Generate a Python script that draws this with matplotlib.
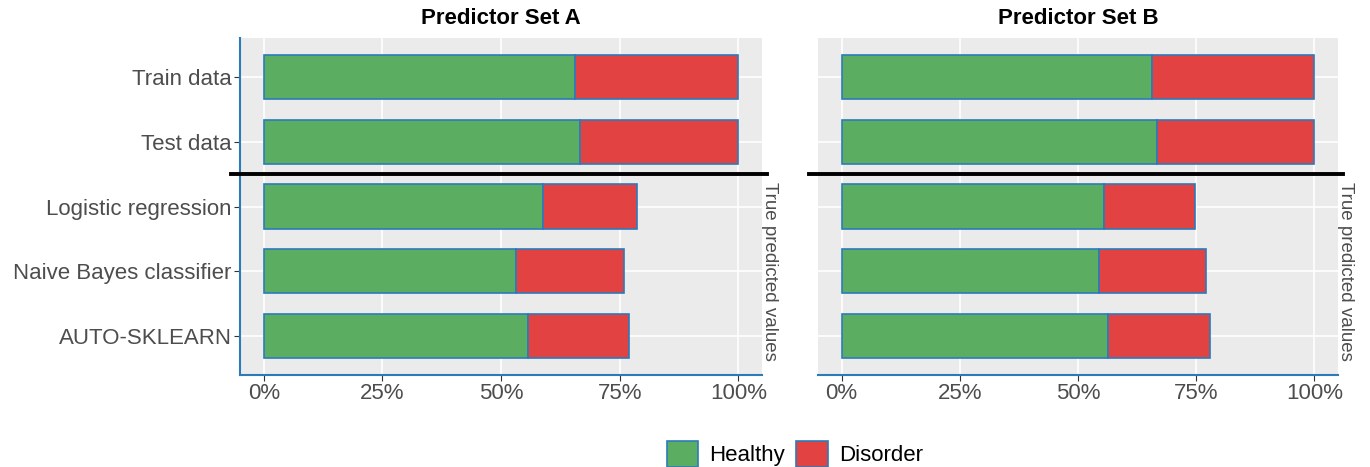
import numpy as np
import matplotlib
matplotlib.use("Agg")
import matplotlib.pyplot as plt
from matplotlib.patches import Patch
from matplotlib.ticker import PercentFormatter

plt.rcParams["font.family"] = ["Liberation Sans", "DejaVu Sans"]

# data (share of cases, 0-1)
categories = ["Train data", "Test data", "Logistic regression",
              "Naive Bayes classifier", "AUTO-SKLEARN"]
panels = ["Predictor Set A", "Predictor Set B"]
healthy_a = [0.656, 0.667, 0.589, 0.531, 0.557]
disorder_a = [0.344, 0.333, 0.198, 0.228, 0.212]
healthy_b = [0.656, 0.667, 0.556, 0.544, 0.564]
disorder_b = [0.344, 0.333, 0.191, 0.226, 0.216]
x_ticks = [0, 0.25, 0.5, 0.75, 1.0]

green = "#5BAD61"
red = "#E34242"
edge = "#2B7BBA"
panel_bg = "#EBEBEB"
label_col = "#4D4D4D"

fig = plt.figure(figsize=(13.7, 4.67), dpi=100)
ax_a = fig.add_axes([240 / 1370, 1 - 375 / 467, 522 / 1370, 337 / 467])
ax_b = fig.add_axes([818 / 1370, 1 - 375 / 467, 520 / 1370, 337 / 467])

y = np.arange(len(categories))

for ax, title, h, d in [(ax_a, panels[0], healthy_a, disorder_a),
                        (ax_b, panels[1], healthy_b, disorder_b)]:
    ax.set_facecolor(panel_bg)
    ax.barh(y, h, height=0.68, color=green, edgecolor=edge, linewidth=1.2, zorder=3)
    ax.barh(y, d, left=h, height=0.68, color=red, edgecolor=edge, linewidth=1.2, zorder=3)
    ax.set_xlim(-0.05, 1.05)
    ax.set_ylim(len(categories) - 0.4, -0.6)
    ax.set_xticks(x_ticks)
    ax.xaxis.set_major_formatter(PercentFormatter(1.0, decimals=0))
    ax.set_yticks(y)
    ax.grid(True, color="white", linewidth=1.2, zorder=0)
    ax.set_axisbelow(True)
    for s in ["top", "right", "left"]:
        ax.spines[s].set_visible(False)
    ax.spines["bottom"].set_color(edge)
    ax.spines["bottom"].set_linewidth(1.5)
    ax.tick_params(axis="x", colors=label_col, labelsize=16, length=4,
                   labelcolor=label_col, pad=2)
    ax.tick_params(axis="x", color="#333333")
    ax.set_title(title, fontsize=16, fontweight="bold", pad=10)
    # separator between data splits and models
    ax.plot([-0.07, 1.06], [1.5, 1.5], color="black", linewidth=2.8,
            clip_on=False, zorder=5)
    ax.text(1.048, 3, "True predicted values", rotation=270, ha="left",
            va="center", fontsize=13.5, color=label_col)

ax_a.set_yticklabels(categories)
ax_a.spines["left"].set_visible(True)
ax_a.spines["left"].set_color(edge)
ax_a.spines["left"].set_linewidth(1.5)
ax_a.tick_params(axis="y", labelsize=16, labelcolor=label_col, color="#333333",
                 length=4, pad=2)
ax_b.tick_params(axis="y", labelleft=False, length=0)

handles = [Patch(facecolor=green, edgecolor=edge, linewidth=1.2, label="Healthy"),
           Patch(facecolor=red, edgecolor=edge, linewidth=1.2, label="Disorder")]
fig.legend(handles=handles, loc="upper center", bbox_to_anchor=(795 / 1370, 1 - 421 / 467),
           ncol=2, frameon=False, fontsize=16, handlelength=1.4, handleheight=1.4,
           columnspacing=0.5, handletextpad=0.5)

fig.savefig("out.png", dpi=100)
plt.close(fig)
